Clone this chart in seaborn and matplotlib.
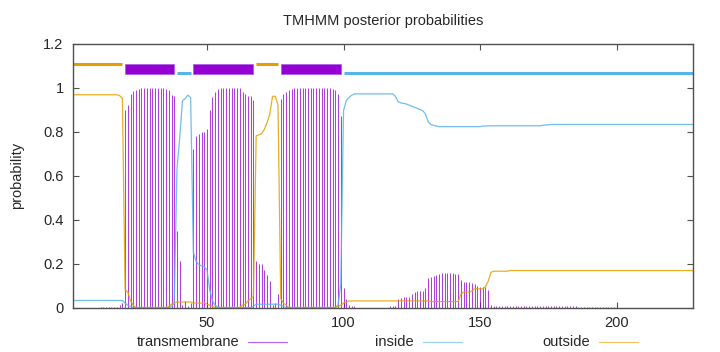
import numpy as np
import pandas as pd
import matplotlib
matplotlib.use("Agg")
import matplotlib.pyplot as plt
from matplotlib.lines import Line2D
import seaborn as sns

# per-residue posterior probabilities (residues 1..228)
transmembrane = [
    0, 0, 0, 0, 0, 0, 0, 0, 0, 0,
    0.003, 0.003, 0.003, 0.003, 0.003, 0.003, 0.003, 0.01, 0.02, 0.90,
    0.92, 0.97, 0.985, 0.99, 0.995, 1.0, 1.0, 1.0, 1.0, 1.0,
    1.0, 1.0, 1.0, 1.0, 0.995, 0.99, 0.965, 0.96, 0.35, 0.21,
    0.01, 0.03, 0.005, 0.02, 0.72, 0.78, 0.79, 0.80, 0.80, 0.81,
    0.90, 0.955, 0.98, 0.995, 1.0, 1.0, 1.0, 1.0, 1.0, 1.0,
    1.0, 1.0, 0.98, 0.97, 0.96, 0.96, 0.945, 0.21, 0.20, 0.20,
    0.17, 0.15, 0.12, 0.01, 0.02, 0.06, 0.95, 0.97, 0.98, 0.99,
    0.995, 1.0, 1.0, 1.0, 1.0, 1.0, 1.0, 1.0, 1.0, 1.0,
    1.0, 1.0, 1.0, 1.0, 1.0, 0.995, 0.99, 0.97, 0.87, 0.09,
    0.04, 0.01, 0.005, 0.005, 0, 0, 0, 0, 0, 0,
    0, 0, 0, 0, 0, 0, 0.005, 0.005, 0.005, 0.04,
    0.045, 0.05, 0.05, 0.05, 0.06, 0.07, 0.075, 0.075, 0.075, 0.09,
    0.135, 0.14, 0.145, 0.15, 0.153, 0.155, 0.155, 0.155, 0.155, 0.155,
    0.152, 0.152, 0.123, 0.118, 0.115, 0.115, 0.11, 0.105, 0.098, 0.095,
    0.092, 0.092, 0.08, 0.01, 0.005, 0.005, 0.005, 0.005, 0.005, 0.005,
    0.005, 0.005, 0.005, 0.005, 0.005, 0.005, 0.005, 0.005, 0.005, 0.005,
    0.005, 0.005, 0.005, 0.005, 0.005, 0.005, 0.005, 0.005, 0.005, 0.005,
    0.005, 0.005, 0.005, 0.005, 0.005, 0.003, 0.003, 0.003, 0.003, 0.003,
    0.003, 0.003, 0.003, 0.003, 0.003, 0.003, 0.003, 0.003, 0.003, 0.003,
    0, 0, 0, 0, 0, 0, 0, 0, 0, 0,
    0, 0, 0, 0, 0, 0, 0, 0, 0, 0,
    0, 0, 0, 0, 0, 0, 0, 0,
]

inside = [
    0.032, 0.032, 0.032, 0.032, 0.032, 0.032, 0.032, 0.032, 0.032, 0.032,
    0.032, 0.032, 0.032, 0.032, 0.032, 0.032, 0.032, 0.032, 0.032, 0.02,
    0.01, 0.005, 0, 0, 0, 0, 0, 0, 0, 0,
    0, 0, 0, 0, 0, 0, 0.005, 0.02, 0.63, 0.77,
    0.94, 0.95, 0.965, 0.955, 0.25, 0.21, 0.195, 0.19, 0.185, 0.17,
    0.08, 0.03, 0.01, 0.003, 0, 0, 0, 0, 0, 0,
    0, 0, 0, 0, 0, 0, 0.005, 0.015, 0.015, 0.015,
    0.015, 0.015, 0.015, 0.015, 0.015, 0.015, 0.01, 0.005, 0, 0,
    0, 0, 0, 0, 0, 0, 0, 0, 0, 0,
    0, 0, 0, 0, 0, 0, 0, 0.01, 0.11, 0.895,
    0.94, 0.955, 0.965, 0.971, 0.971, 0.971, 0.971, 0.971, 0.971, 0.971,
    0.971, 0.971, 0.971, 0.971, 0.971, 0.971, 0.971, 0.971, 0.96, 0.935,
    0.93, 0.928, 0.925, 0.92, 0.915, 0.91, 0.905, 0.90, 0.895, 0.88,
    0.845, 0.832, 0.828, 0.825, 0.822, 0.822, 0.822, 0.822, 0.822, 0.822,
    0.822, 0.822, 0.822, 0.822, 0.822, 0.822, 0.822, 0.822, 0.822, 0.822,
    0.825, 0.825, 0.826, 0.826, 0.826, 0.826, 0.826, 0.826, 0.826, 0.826,
    0.826, 0.826, 0.826, 0.826, 0.826, 0.826, 0.826, 0.826, 0.826, 0.826,
    0.826, 0.826, 0.828, 0.83, 0.83, 0.832, 0.832, 0.832, 0.832, 0.832,
    0.832, 0.832, 0.832, 0.832, 0.832, 0.832, 0.832, 0.832, 0.832, 0.832,
    0.832, 0.832, 0.832, 0.832, 0.832, 0.832, 0.832, 0.832, 0.832, 0.832,
    0.832, 0.832, 0.832, 0.832, 0.832, 0.832, 0.832, 0.832, 0.832, 0.832,
    0.832, 0.832, 0.832, 0.832, 0.832, 0.832, 0.832, 0.832, 0.832, 0.832,
    0.832, 0.832, 0.832, 0.832, 0.832, 0.832, 0.832, 0.832,
]

outside = [
    0.967, 0.967, 0.967, 0.967, 0.967, 0.967, 0.967, 0.967, 0.967, 0.967,
    0.967, 0.967, 0.967, 0.967, 0.967, 0.967, 0.967, 0.963, 0.95, 0.08,
    0.07, 0.03, 0.01, 0, 0, 0, 0, 0, 0, 0,
    0, 0, 0, 0, 0, 0.005, 0.015, 0.02, 0.025, 0.025,
    0.025, 0.025, 0.025, 0.025, 0.02, 0.02, 0.02, 0.02, 0.02, 0.015,
    0.01, 0.005, 0, 0, 0, 0, 0, 0, 0, 0,
    0, 0, 0.01, 0.015, 0.03, 0.04, 0.05, 0.78, 0.785, 0.79,
    0.81, 0.84, 0.88, 0.96, 0.96, 0.92, 0.04, 0.02, 0.01, 0,
    0, 0, 0, 0, 0, 0, 0, 0, 0, 0,
    0, 0, 0, 0, 0, 0, 0, 0.005, 0.01, 0.02,
    0.025, 0.03, 0.03, 0.03, 0.03, 0.03, 0.03, 0.03, 0.03, 0.03,
    0.03, 0.03, 0.03, 0.03, 0.03, 0.03, 0.03, 0.03, 0.03, 0.03,
    0.03, 0.03, 0.03, 0.03, 0.03, 0.03, 0.03, 0.03, 0.03, 0.03,
    0.03, 0.027, 0.027, 0.027, 0.027, 0.027, 0.027, 0.027, 0.027, 0.027,
    0.027, 0.027, 0.06, 0.07, 0.07, 0.07, 0.075, 0.085, 0.085, 0.085,
    0.085, 0.095, 0.12, 0.16, 0.165, 0.165, 0.165, 0.165, 0.165, 0.165,
    0.168, 0.168, 0.168, 0.168, 0.168, 0.168, 0.168, 0.168, 0.168, 0.168,
    0.168, 0.168, 0.168, 0.168, 0.168, 0.168, 0.168, 0.168, 0.168, 0.168,
    0.168, 0.168, 0.168, 0.168, 0.168, 0.168, 0.168, 0.168, 0.168, 0.168,
    0.168, 0.168, 0.168, 0.168, 0.168, 0.168, 0.168, 0.168, 0.168, 0.168,
    0.168, 0.168, 0.168, 0.168, 0.168, 0.168, 0.168, 0.168, 0.168, 0.168,
    0.168, 0.168, 0.168, 0.168, 0.168, 0.168, 0.168, 0.168, 0.168, 0.168,
    0.168, 0.168, 0.168, 0.168, 0.168, 0.168, 0.168, 0.168,
]

# predicted topology (start, end residue)
tm_segments = [(20, 38), (45, 67), (77, 99)]
inside_segments = [(39, 44), (100, 228)]
outside_segments = [(1, 19), (68, 76)]

x_ticks = [50, 100, 150, 200]
y_ticks = [0, 0.2, 0.4, 0.6, 0.8, 1.0, 1.2]
y_tick_labels = ["0", "0.2", "0.4", "0.6", "0.8", "1", "1.2"]

PURPLE = "#9400D3"
BLUE = "#56B4E9"
ORANGE = "#E69F00"
BORDER = "#505050"

sns.set_style("ticks")
plt.rcParams["font.family"] = ["Liberation Sans", "DejaVu Sans"]
plt.rcParams["font.size"] = 10.5

residue = np.arange(1, len(transmembrane) + 1)
df = pd.DataFrame({"residue": residue, "transmembrane": transmembrane,
                   "inside": inside, "outside": outside})

fig = plt.figure(figsize=(7.2, 3.52), dpi=100)
ax = fig.add_axes([0.1017, 0.1264, 0.8608, 0.75])

# impulses for transmembrane
ax.vlines(df["residue"], 0, df["transmembrane"], color=PURPLE, lw=0.75, alpha=0.75)

long_df = df.melt(id_vars="residue", value_vars=["inside", "outside"],
                  var_name="state", value_name="prob")
sns.lineplot(data=long_df, x="residue", y="prob", hue="state",
             palette={"inside": BLUE, "outside": ORANGE},
             lw=0.9, alpha=0.85, legend=False, ax=ax)

# topology bar on top
for s, e in outside_segments:
    ax.hlines(1.107, s, e, color=ORANGE, lw=2.2)
for s, e in inside_segments:
    ax.hlines(1.066, s, e, color=BLUE, lw=2.2)
ax.broken_barh([(s, e - s) for s, e in tm_segments], (1.062, 0.046),
               facecolor=PURPLE, edgecolor="#b060e0", lw=0.6)

ax.set_xlim(1, 228)
ax.set_ylim(0, 1.2)
ax.set_xticks(x_ticks)
ax.set_xticklabels([str(t) for t in x_ticks])
ax.set_yticks(y_ticks)
ax.set_yticklabels(y_tick_labels)
ax.tick_params(direction="in", length=4, width=0.8, color=BORDER,
               top=True, right=True, labelsize=10.5, pad=6)
ax.tick_params(axis="y", pad=7)
for sp in ax.spines.values():
    sp.set_color(BORDER)
    sp.set_linewidth(1.0)
    sp.set_visible(True)

ax.set_xlabel("")
ax.set_ylabel("probability", fontsize=10.5, va="center")
ax.yaxis.set_label_coords(-0.0906, 0.5)
ax.set_title("TMHMM posterior probabilities", fontsize=10.5, pad=13)

# legend below the plot: text then line sample
legend_items = [("transmembrane", PURPLE, 239, 248, 287),
                ("inside", BLUE, 414, 423, 462),
                ("outside", ORANGE, 590, 599, 638)]
ly = 1 - 341.5 / 352
for label, col, tx, l0, l1 in legend_items:
    fig.text(tx / 720, ly, label, ha="right", va="center", fontsize=10.5)
    fig.add_artist(Line2D([l0 / 720, l1 / 720], [ly, ly], color=col,
                          lw=0.9, alpha=0.6, transform=fig.transFigure))

fig.savefig("out.png", dpi=100)
